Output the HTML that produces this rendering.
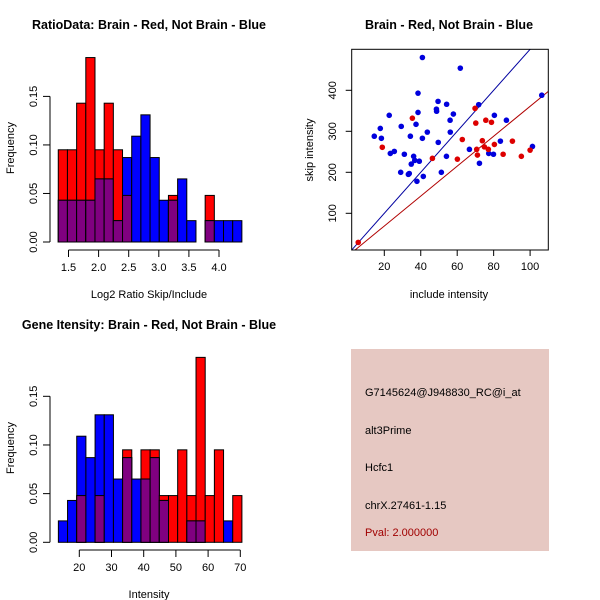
<!DOCTYPE html>
<html><head><meta charset="utf-8"><style>
body{margin:0;background:#fff}
svg{display:block;font-family:"Liberation Sans",Arial,sans-serif}
</style></head><body>
<svg id="c" width="600" height="600" xmlns="http://www.w3.org/2000/svg"></svg>
<script>
// Top-left histogram (ratio) data
const ratioBinStart = 1.33;
const ratioBinWidth = 0.1525;
const ratioRed = [.095,.095,.143,.19,.095,.143,.095,.048,0,0,0,0,.048,0,0,0,.048,0,0,0];
const ratioBlue = [.043,.043,.043,.043,.065,.065,.022,.087,.109,.131,.087,.043,.043,.065,.022,0,.022,.022,.022,.022];
const ratioXTicks = [1.5,2.0,2.5,3.0,3.5,4.0];
const freqTicks = [0,0.05,0.10,0.15];
const freqTickLabels = ["0.00","0.05","0.10","0.15"];
// Bottom-left histogram (intensity)
const intBinStart = 13.5;
const intBinWidth = 2.85;
const intRed = [0,0,.048,0,.048,0,0,.095,0,.095,.095,.048,.048,.095,.048,.19,.048,.095,0,.048];
const intBlue = [.022,.043,.109,.087,.131,.131,.065,.087,.065,.065,.087,.043,0,0,.022,.022,0,0,.022,0];
const intXTicks = [20,30,40,50,60,70];
// Scatter
const blueX = [14.5,17.8,18.4,22.7,23.3,25.5,29.0,29.3,31.0,33.2,33.7,34.3,34.8,36.1,36.7,37.4,37.9,38.5,38.5,39.2,40.9,40.9,41.4,43.6,48.6,48.7,49.5,49.6,51.3,54.2,54.1,56.1,56.2,57.9,61.7,71.8,66.7,72.2,77.3,79.9,80.4,83.7,87.0,101.3,106.4];
const blueY = [288,307,283,339,246,251,200,312,244,195,197,288,220,239,229,317,178,346,393,227,480,283,190,298,354,349,373,273,200,366,239,327,298,342,454,365,256,222,246,244,339,276,327,263,388];
const redX = [5.7,18.9,35.4,46.4,60.1,62.8,69.8,70.2,70.7,71.1,73.8,74.9,75.7,77.1,78.8,80.4,85.2,90.3,95.2,100];
const redY = [29,261,332,234,232,280,356,320,256,242,277,262,327,256,322,268,244,276,239,254];
const scatterXTicks = [20,40,60,80,100];
const scatterYTicks = [100,200,300,400];
const blueSlope = 5, blueIntercept = 0;
const redSlope = 3.65, redIntercept = -4;

const svg = document.getElementById('c');
const NS = 'http://www.w3.org/2000/svg';
function el(tag, attrs, parent){const e=document.createElementNS(NS,tag);for(const k in attrs)e.setAttribute(k,attrs[k]);(parent||svg).appendChild(e);return e;}
function txt(s, attrs, parent){const e=el('text',attrs,parent);e.textContent=s;return e;}

function hist(g, binStart, binW, red, blue, xTicks, xs, ys, y0, tickLabels){
  for(let i=0;i<red.length;i++){
    const a=binStart+i*binW,b=a+binW;
    const x1=xs(a),x2=xs(b);
    const r=red[i],bl=blue[i],m=Math.min(r,bl);
    if(r>0){const e=el('rect',{x:x1,y:ys(r),width:x2-x1,height:ys(0)-ys(r),fill:'#ff0000',stroke:'#000','stroke-width':1},g);
      }
    if(bl>0){const e=el('rect',{x:x1,y:ys(bl),width:x2-x1,height:ys(0)-ys(bl),fill:'#0000ff',stroke:'#000','stroke-width':1},g);
      }
    if(m>0){const e=el('rect',{x:x1,y:ys(m),width:x2-x1,height:ys(0)-ys(m),fill:'#800080',stroke:'#000','stroke-width':1},g);
      }
  }
  el('line',{x1:50,x2:50,y1:ys(freqTicks[0]),y2:ys(freqTicks[freqTicks.length-1]),stroke:'#000'},g);
  freqTicks.forEach((t,i)=>{el('line',{x1:43,x2:50,y1:ys(t),y2:ys(t),stroke:'#000'},g);
    const yy=ys(t);txt(tickLabels[i],{x:34,y:yy,'font-size':11,'text-anchor':'middle',transform:`rotate(-90 34 ${yy})`,'dominant-baseline':'central'},g);});
  el('line',{x1:xs(xTicks[0]),x2:xs(xTicks[xTicks.length-1]),y1:y0,y2:y0,stroke:'#000'},g);
  xTicks.forEach(t=>{el('line',{x1:xs(t),x2:xs(t),y1:y0,y2:y0+7,stroke:'#000'},g);
    txt(t%1===0&&t<10?t.toFixed(1):String(t),{x:xs(t),y:y0+21,'font-size':11,'text-anchor':'middle'},g);});
}

const g1=el('g',{});
const xs1=v=>68.5+(v-1.5)*60.2, ys1=v=>242-v*970.7;
hist(g1,ratioBinStart,ratioBinWidth,ratioRed,ratioBlue,ratioXTicks,xs1,ys1,250,freqTickLabels);
txt('RatioData: Brain - Red, Not Brain - Blue',{x:149,y:29,'font-size':12.5,'font-weight':'bold','text-anchor':'middle',},g1);
txt('Log2 Ratio Skip/Include',{x:149,y:298,'font-size':11,'text-anchor':'middle',},g1);
txt('Frequency',{x:11,y:148,'font-size':11,'text-anchor':'middle',transform:'rotate(-90 11 148)','dominant-baseline':'central',},g1);

const g2=el('g',{});
const xs2=v=>79.3+(v-20)*3.22, ys2=v=>542.3-v*973.3;
hist(g2,intBinStart,intBinWidth,intRed,intBlue,intXTicks,xs2,ys2,550,freqTickLabels);
txt('Gene Itensity: Brain - Red, Not Brain - Blue',{x:149,y:329,'font-size':12.5,'font-weight':'bold','text-anchor':'middle',},g2);
txt('Intensity',{x:149,y:598,'font-size':11,'text-anchor':'middle',},g2);
txt('Frequency',{x:11,y:448,'font-size':11,'text-anchor':'middle',transform:'rotate(-90 11 448)','dominant-baseline':'central',},g2);

const g3=el('g',{});
const L=351.7,R=548.3,T=49.3,B=250;
const xs3=v=>384.3+(v-20)*1.8225, ys3=v=>213.3-(v-100)*0.41;
const cp=el('clipPath',{id:'cp'},g3);el('rect',{x:L,y:T,width:R-L,height:B-T},cp);
const xMin=2.1,xMax=110;
const bl=el('line',{x1:xs3(xMin),y1:ys3(blueSlope*xMin+blueIntercept),x2:xs3(xMax),y2:ys3(blueSlope*xMax+blueIntercept),stroke:'#0000a0','clip-path':'url(#cp)'},g3);

const rl=el('line',{x1:xs3(xMin),y1:ys3(redSlope*xMin+redIntercept),x2:xs3(xMax),y2:ys3(redSlope*xMax+redIntercept),stroke:'#b00000','clip-path':'url(#cp)'},g3);

blueX.forEach((x,i)=>{const c=el('circle',{cx:xs3(x),cy:ys3(blueY[i]),r:2.8,fill:'#0000dd'},g3);
  });
redX.forEach((x,i)=>{const c=el('circle',{cx:xs3(x),cy:ys3(redY[i]),r:2.8,fill:'#dd0000'},g3);
  });
el('rect',{x:L,y:T,width:R-L,height:B-T,fill:'none',stroke:'#000'},g3);
scatterXTicks.forEach(t=>{el('line',{x1:xs3(t),x2:xs3(t),y1:B,y2:B+6,stroke:'#000'},g3);
  txt(String(t),{x:xs3(t),y:B+20,'font-size':11,'text-anchor':'middle'},g3);});
scatterYTicks.forEach(t=>{const yy=ys3(t);el('line',{x1:L-6,x2:L,y1:yy,y2:yy,stroke:'#000'},g3);
  txt(String(t),{x:333,y:yy,'font-size':11,'text-anchor':'middle','dominant-baseline':'central',transform:`rotate(-90 333 ${yy})`},g3);});
txt('Brain - Red, Not Brain - Blue',{x:449,y:29,'font-size':12.5,'font-weight':'bold','text-anchor':'middle',},g3);
txt('include intensity',{x:449,y:298,'font-size':11,'text-anchor':'middle',},g3);
txt('skip intensity',{x:310,y:150,'font-size':11,'text-anchor':'middle','dominant-baseline':'central',transform:'rotate(-90 310 150)',},g3);

const g4=el('g',{});
el('rect',{x:351,y:349,width:198,height:202,fill:'#e6c8c2'},g4);
[['G7145624@J948830_RC@i_at',396,'#000','probe-id'],['alt3Prime',434,'#000','event-type'],['Hcfc1',471,'#000','gene-name'],['chrX.27461-1.15',509,'#000','location'],['Pval: 2.000000',536,'#a00000','p-value']].forEach(d=>{
  txt(d[0],{x:365,y:d[1],'font-size':11,fill:d[2],},g4);});
</script>
</body></html>
